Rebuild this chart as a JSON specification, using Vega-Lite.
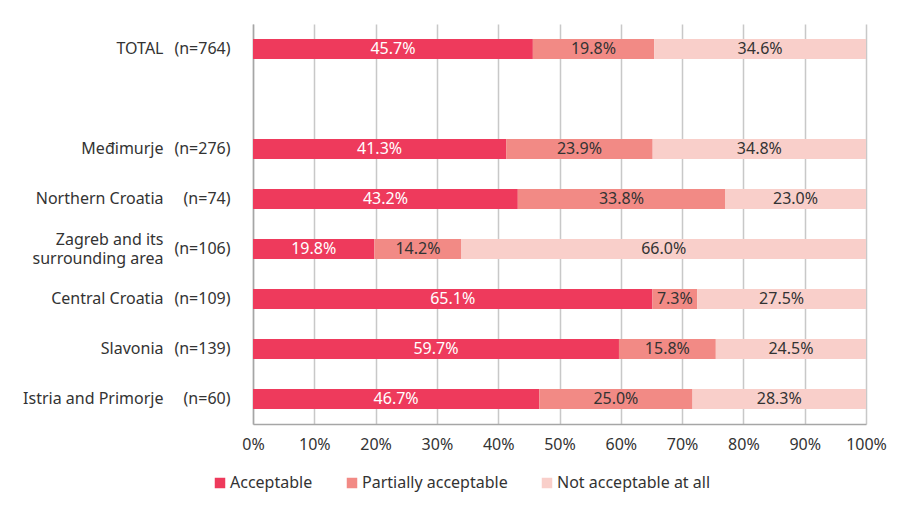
{
  "$schema": "https://vega.github.io/schema/vega-lite/v6.json",
  "width": 613,
  "height": 400,
  "autosize": {"type": "none"},
  "padding": {"left": 253, "top": 24, "right": 42, "bottom": 82},
  "background": "white",
  "config": {
    "font": "Noto Sans",
    "view": {"stroke": null},
    "axis": {"labelFont": "Noto Sans", "labelFontSize": 16, "labelColor": "#333333"},
    "legend": {"labelFont": "Noto Sans", "labelFontSize": 16, "labelColor": "#333333"}
  },
  "data": {
    "values": [
      {"region": "TOTAL|(n=764)", "cat": "Acceptable", "v": 0.457},
      {"region": "TOTAL|(n=764)", "cat": "Partially acceptable", "v": 0.198},
      {"region": "TOTAL|(n=764)", "cat": "Not acceptable at all", "v": 0.346},
      {"region": "Međimurje|(n=276)", "cat": "Acceptable", "v": 0.413},
      {"region": "Međimurje|(n=276)", "cat": "Partially acceptable", "v": 0.239},
      {"region": "Međimurje|(n=276)", "cat": "Not acceptable at all", "v": 0.348},
      {"region": "Northern Croatia|(n=74)", "cat": "Acceptable", "v": 0.432},
      {"region": "Northern Croatia|(n=74)", "cat": "Partially acceptable", "v": 0.338},
      {"region": "Northern Croatia|(n=74)", "cat": "Not acceptable at all", "v": 0.230},
      {"region": "Zagreb and its;surrounding area|(n=106)", "cat": "Acceptable", "v": 0.198},
      {"region": "Zagreb and its;surrounding area|(n=106)", "cat": "Partially acceptable", "v": 0.142},
      {"region": "Zagreb and its;surrounding area|(n=106)", "cat": "Not acceptable at all", "v": 0.660},
      {"region": "Central Croatia|(n=109)", "cat": "Acceptable", "v": 0.651},
      {"region": "Central Croatia|(n=109)", "cat": "Partially acceptable", "v": 0.073},
      {"region": "Central Croatia|(n=109)", "cat": "Not acceptable at all", "v": 0.275},
      {"region": "Slavonia|(n=139)", "cat": "Acceptable", "v": 0.597},
      {"region": "Slavonia|(n=139)", "cat": "Partially acceptable", "v": 0.158},
      {"region": "Slavonia|(n=139)", "cat": "Not acceptable at all", "v": 0.245},
      {"region": "Istria and Primorje|(n=60)", "cat": "Acceptable", "v": 0.467},
      {"region": "Istria and Primorje|(n=60)", "cat": "Partially acceptable", "v": 0.250},
      {"region": "Istria and Primorje|(n=60)", "cat": "Not acceptable at all", "v": 0.283}
    ]
  },
  "transform": [
    {"calculate": "indexof(['Acceptable','Partially acceptable','Not acceptable at all'], datum.cat)", "as": "ord"},
    {"stack": "v", "groupby": ["region"], "sort": [{"field": "ord", "order": "ascending"}], "offset": "normalize", "as": ["x0", "x1"]},
    {"calculate": "(datum.x0 + datum.x1) / 2", "as": "xm"}
  ],
  "layer": [
    {
      "mark": {"type": "bar"},
      "encoding": {
        "y": {
          "field": "region", "type": "nominal",
          "scale": {
            "domain": ["TOTAL|(n=764)", "|", "Međimurje|(n=276)", "Northern Croatia|(n=74)", "Zagreb and its;surrounding area|(n=106)", "Central Croatia|(n=109)", "Slavonia|(n=139)", "Istria and Primorje|(n=60)"],
            "paddingInner": 0.6, "paddingOuter": 0.3
          },
          "axis": {
            "title": null, "orient": "left", "ticks": false, "labelPadding": 23,
            "labelExpr": "split(datum.value, '|')[1]",
            "domainColor": "#a6a6a6", "domainWidth": 1.5, "labelAlign": "right", "labelBaseline": "middle"
          }
        },
        "x": {
          "field": "x0", "type": "quantitative",
          "scale": {"domain": [0, 1], "nice": false},
          "axis": {
            "title": null, "format": ".0%", "values": [0, 0.1, 0.2, 0.3, 0.4, 0.5, 0.6, 0.7, 0.8, 0.9, 1],
            "grid": true, "gridColor": "#c8c8c8", "gridWidth": 1.5, "labelFlush": false,
            "domainColor": "#a6a6a6", "domainWidth": 1.5, "ticks": false, "labelPadding": 12
          }
        },
        "x2": {"field": "x1"},
        "color": {
          "field": "cat", "type": "nominal",
          "scale": {
            "domain": ["Acceptable", "Partially acceptable", "Not acceptable at all"],
            "range": ["#ee3a5c", "#f28a85", "#f9cfca"]
          },
          "legend": {
            "title": null, "orient": "none", "direction": "horizontal",
            "legendX": -41, "legendY": 451, "symbolType": "square", "symbolSize": 110,
            "symbolStrokeWidth": 0, "columnPadding": 31, "labelOffset": 2, "padding": 0
          }
        }
      }
    },
    {
      "mark": {"type": "text", "fontSize": 16, "font": "Noto Sans"},
      "encoding": {
        "y": {
          "field": "region", "type": "nominal",
          "axis": {
            "title": null, "orient": "left", "ticks": false, "domain": false, "labelPadding": 90,
            "labelExpr": "split(split(datum.value, '|')[0], ';')",
            "labelLineHeight": 19, "labelAlign": "right", "labelBaseline": "middle",
            "labelOffset": {"condition": {"test": "indexof(datum.value, ';') >= 0", "value": -9.5}, "value": 0}
          }
        },
        "x": {"field": "xm", "type": "quantitative"},
        "text": {"field": "v", "type": "quantitative", "format": ".1%"},
        "color": {
          "condition": {"test": "datum.cat === 'Acceptable'", "value": "white"},
          "value": "#333333"
        }
      }
    }
  ],
  "resolve": {"axis": {"y": "independent"}}
}
